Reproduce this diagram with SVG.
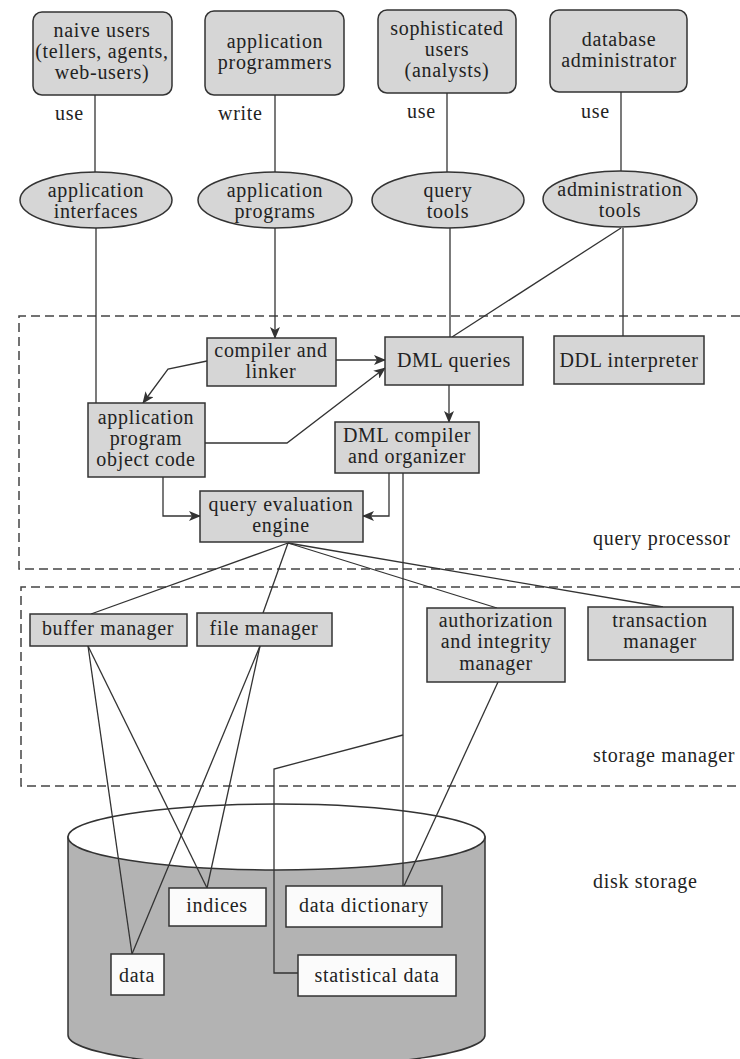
<svg xmlns="http://www.w3.org/2000/svg" width="740" height="1059" viewBox="0 0 740 1059">
<defs>
<style>
text{font-family:"Liberation Serif","Times New Roman",serif;font-size:20px;fill:#222;text-anchor:middle;letter-spacing:0.7px}
.lbl{text-anchor:start}
.box{fill:#d6d6d6;stroke:#333;stroke-width:1.5}
.wbox{fill:#fbfbfb;stroke:#333;stroke-width:1.5}
.ell{fill:#d6d6d6;stroke:#333;stroke-width:1.5}
.con{fill:none;stroke:#333;stroke-width:1.3}
.dash{fill:none;stroke:#444;stroke-width:1.5;stroke-dasharray:9 5}
</style>
<marker id="arr" markerWidth="12" markerHeight="10" refX="11" refY="5" orient="auto" markerUnits="userSpaceOnUse">
<path d="M0,0 L12,5 L0,10 L3,5 z" fill="#333"/>
</marker>
</defs>
<rect width="740" height="1059" fill="#fff"/>

<g id="regions">
<path class="dash" d="M740,316 H19 V569 H740"/>
<path class="dash" d="M740,587 H21 V786 H740"/>
<text class="lbl" x="593" y="545">query processor</text>
<text class="lbl" x="593" y="762">storage manager</text>
<text class="lbl" x="593" y="888">disk storage</text>
</g>

<g id="disk">
<path d="M68,837 V1035 A208.5,32 0 0 0 485,1035 V837 Z" fill="#b3b3b3" stroke="#333" stroke-width="1.5"/>
<ellipse cx="276.5" cy="837" rx="208.5" ry="33" fill="#fff" stroke="#333" stroke-width="1.5"/>
</g>

<g id="connectors">
<path class="con" d="M95,95 V172"/>
<path class="con" d="M275,95 V172"/>
<path class="con" d="M447,93 V172"/>
<path class="con" d="M621,92 V171"/>
<path class="con" d="M96,228 V403"/>
<path class="con" d="M275,228 V338" marker-end="url(#arr)"/>
<path class="con" d="M450,228 V337"/>
<path class="con" d="M623,228 V336"/>
<path class="con" d="M621,228 L452,337"/>
<path class="con" d="M336,360 H385" marker-end="url(#arr)"/>
<path class="con" d="M207,361 L168,369 L143,403" marker-end="url(#arr)"/>
<path class="con" d="M205,443 H287 L385,368" marker-end="url(#arr)"/>
<path class="con" d="M449,385 V422" marker-end="url(#arr)"/>
<path class="con" d="M163,477 V516 H200" marker-end="url(#arr)"/>
<path class="con" d="M389,473 V516 H363" marker-end="url(#arr)"/>
<path class="con" d="M403,473 V886"/>
<path class="con" d="M288,543 L91,614"/>
<path class="con" d="M288,543 L263,613"/>
<path class="con" d="M288,543 L497,608"/>
<path class="con" d="M288,543 L663,607"/>
<path class="con" d="M88,646 L132,954"/>
<path class="con" d="M88,646 L207,888"/>
<path class="con" d="M260,646 L132,954"/>
<path class="con" d="M260,646 L207,888"/>
<path class="con" d="M498,682 L404,886"/>
<path class="con" d="M403,735 L274,769 V973 H298"/>
<text class="lbl" x="55" y="120">use</text>
<text class="lbl" x="218" y="120">write</text>
<text class="lbl" x="407" y="118">use</text>
<text class="lbl" x="581" y="118">use</text>
</g>

<g id="naive-users">
<rect class="box" x="33" y="12" width="139" height="83" rx="9"/>
<text x="102" y="37">naive users</text>
<text x="102" y="58">(tellers, agents,</text>
<text x="102" y="79">web-users)</text>
</g>
<g id="application-programmers">
<rect class="box" x="205" y="11" width="139" height="84" rx="9"/>
<text x="275" y="48">application</text>
<text x="275" y="69">programmers</text>
</g>
<g id="sophisticated-users">
<rect class="box" x="378" y="10" width="138" height="83" rx="9"/>
<text x="447" y="35">sophisticated</text>
<text x="447" y="56">users</text>
<text x="447" y="77">(analysts)</text>
</g>
<g id="database-administrator">
<rect class="box" x="550" y="10" width="137" height="82" rx="9"/>
<text x="619" y="46">database</text>
<text x="619" y="67">administrator</text>
</g>

<g id="application-interfaces">
<ellipse class="ell" cx="96" cy="200" rx="76" ry="28"/>
<text x="96" y="197">application</text>
<text x="96" y="218">interfaces</text>
</g>
<g id="application-programs">
<ellipse class="ell" cx="275" cy="200" rx="77" ry="28"/>
<text x="275" y="197">application</text>
<text x="275" y="218">programs</text>
</g>
<g id="query-tools">
<ellipse class="ell" cx="448" cy="200" rx="76" ry="28"/>
<text x="448" y="197">query</text>
<text x="448" y="218">tools</text>
</g>
<g id="administration-tools">
<ellipse class="ell" cx="620" cy="199" rx="77" ry="28"/>
<text x="620" y="196">administration</text>
<text x="620" y="217">tools</text>
</g>

<g id="compiler-linker">
<rect class="box" x="207" y="338" width="129" height="48"/>
<text x="271" y="357">compiler and</text>
<text x="271" y="378">linker</text>
</g>
<g id="dml-queries">
<rect class="box" x="385" y="337" width="138" height="48"/>
<text x="454" y="367">DML queries</text>
</g>
<g id="ddl-interpreter">
<rect class="box" x="554" y="336" width="150" height="48"/>
<text x="629" y="367">DDL interpreter</text>
</g>
<g id="app-object-code">
<rect class="box" x="88" y="403" width="117" height="74"/>
<text x="146" y="424">application</text>
<text x="146" y="445">program</text>
<text x="146" y="466">object code</text>
</g>
<g id="dml-compiler">
<rect class="box" x="335" y="422" width="144" height="51"/>
<text x="407" y="442">DML compiler</text>
<text x="407" y="463">and organizer</text>
</g>
<g id="query-evaluation-engine">
<rect class="box" x="200" y="491" width="163" height="51"/>
<text x="281" y="511">query evaluation</text>
<text x="281" y="532">engine</text>
</g>

<g id="buffer-manager">
<rect class="box" x="30" y="614" width="157" height="32"/>
<text x="108" y="635">buffer manager</text>
</g>
<g id="file-manager">
<rect class="box" x="197" y="613" width="135" height="33"/>
<text x="264" y="635">file manager</text>
</g>
<g id="authorization-manager">
<rect class="box" x="427" y="608" width="138" height="74"/>
<text x="496" y="627">authorization</text>
<text x="496" y="648">and integrity</text>
<text x="496" y="670">manager</text>
</g>
<g id="transaction-manager">
<rect class="box" x="588" y="607" width="145" height="53"/>
<text x="660" y="627">transaction</text>
<text x="660" y="648">manager</text>
</g>

<g id="indices">
<rect class="wbox" x="169" y="888" width="97" height="38"/>
<text x="217" y="912">indices</text>
</g>
<g id="data-dictionary">
<rect class="wbox" x="286" y="886" width="156" height="41"/>
<text x="364" y="912">data dictionary</text>
</g>
<g id="data">
<rect class="wbox" x="111" y="954" width="53" height="41"/>
<text x="137" y="982">data</text>
</g>
<g id="statistical-data">
<rect class="wbox" x="298" y="955" width="158" height="41"/>
<text x="377" y="982">statistical data</text>
</g>
</svg>
